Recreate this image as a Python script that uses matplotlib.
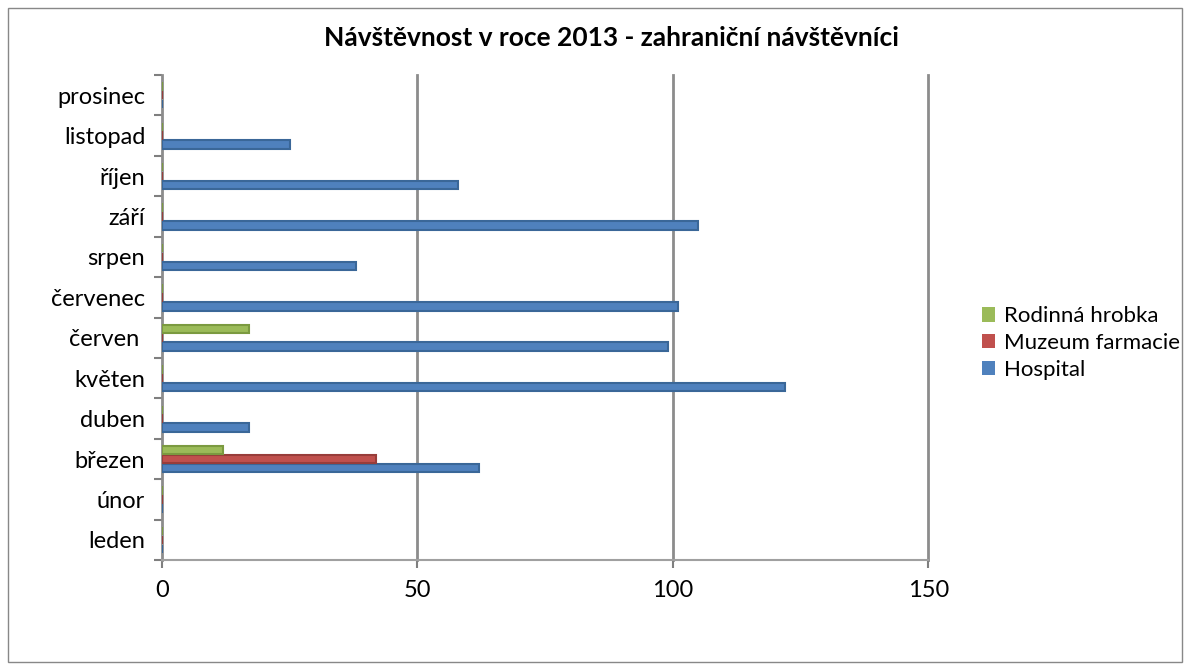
import numpy as np
import matplotlib.pyplot as plt
from matplotlib.patches import Rectangle

# data
mesice = ["leden", "únor", "březen", "duben", "květen", "červen ",
          "červenec", "srpen", "září", "říjen", "listopad", "prosinec"]
hospital = [0, 0, 62, 17, 122, 99, 101, 38, 105, 58, 25, 0]
muzeum_farmacie = [0, 0, 42, 0, 0, 0, 0, 0, 0, 0, 0, 0]
rodinna_hrobka = [0, 0, 12, 0, 0, 17, 0, 0, 0, 0, 0, 0]
x_ticks = [0, 50, 100, 150]

plt.rcParams['font.family'] = ['Lato', 'DejaVu Sans']

fig = plt.figure(figsize=(11.9, 6.7), dpi=100)
ax = fig.add_axes([0.136, 0.164, 0.644, 0.724])

y = np.arange(len(mesice))
h = 0.21
serie = [
    (hospital, -0.22, "#4F81BD", "#3A6798", "Hospital"),
    (muzeum_farmacie, 0.0, "#C0504D", "#983D3A", "Muzeum farmacie"),
    (rodinna_hrobka, 0.22, "#9BBB59", "#7B9A40", "Rodinná hrobka"),
]
handles = []
for vals, off, col, edge, lab in serie:
    b = ax.barh(y + off, vals, height=h, color=col, edgecolor=edge,
                linewidth=1.5, label=lab, zorder=3)
    handles.append(b)

ax.set_xlim(0, 150)
ax.set_ylim(-0.5, len(mesice) - 0.5)
ax.set_xticks(x_ticks)
ax.set_xticklabels([str(t) for t in x_ticks], fontsize=17)
ax.set_yticks(y)
ax.set_yticklabels(mesice, fontsize=17)
ax.set_yticks(np.arange(-0.5, len(mesice), 1), minor=True)
ax.tick_params(axis='y', which='major', length=0, pad=12)
ax.tick_params(axis='y', which='minor', length=6, color='#7f7f7f', width=1.5)
ax.tick_params(axis='x', length=6, color='#7f7f7f', width=1.5, pad=8)

for t in x_ticks[1:]:
    ax.axvline(t, color='#8c8c8c', linewidth=2, zorder=1, clip_on=False)

for s in ['top', 'right']:
    ax.spines[s].set_visible(False)
ax.spines['left'].set_color('#8c8c8c')
ax.spines['left'].set_linewidth(2)
ax.spines['bottom'].set_color('#a0a0a0')
ax.spines['bottom'].set_linewidth(1.5)

fig.text(0.514, 0.943, "Návštěvnost v roce 2013 - zahraniční návštěvníci",
         ha='center', va='center', fontsize=19, fontweight='bold')

leg = fig.legend(handles[::-1], [s[4] for s in serie[::-1]],
                 loc='center left', bbox_to_anchor=(0.808, 0.488),
                 frameon=False, fontsize=16, handlelength=0.6,
                 handleheight=0.6, handletextpad=0.4, labelspacing=0.3)
for p in leg.get_patches():
    p.set_edgecolor('none')

fig.patches.append(Rectangle((0.007, 0.012), 0.986, 0.976, transform=fig.transFigure,
                             fill=False, edgecolor='#888888', linewidth=1))

fig.savefig("out.png", dpi=100)
